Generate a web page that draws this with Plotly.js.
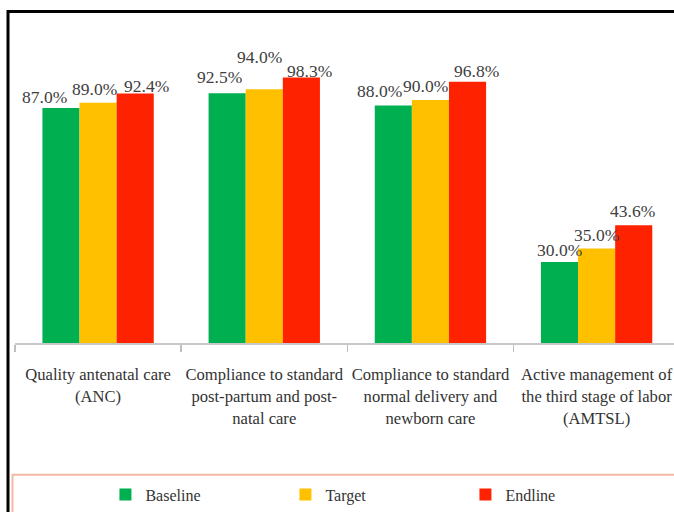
<!DOCTYPE html>
<html>
<head>
<meta charset="utf-8">
<script src="https://cdn.plot.ly/plotly-3.0.1.min.js"></script>
<style>html,body{margin:0;padding:0;background:#fff;}#chart{width:674px;height:512px;}</style>
</head>
<body>
<div id="chart"></div>
<script>
var categories = [
  "Quality antenatal care<br>(ANC)",
  "Compliance to standard<br>post-partum and post-<br>natal care",
  "Compliance to standard<br>normal delivery and<br>newborn care",
  "Active management of<br>the third stage of labor<br>(AMTSL)"
];
var seriesNames = ["Baseline", "Target", "Endline"];
var baseline = [87.0, 92.5, 88.0, 30.0];
var target = [89.0, 94.0, 90.0, 35.0];
var endline = [92.4, 98.3, 96.8, 43.6];

var colors = ["#00b050", "#ffc000", "#ff2200"];
var series = [baseline, target, endline];

// label placement tweaks (px): horizontal offset from bar centre, height of label centre above bar top
var labelDx = [[-16, -7.5, -14, 0], [-4, -4.5, -5, 0], [11, 8.5, 9, -1]];
var labelDy = [[11, 16, 14, 12], [13.5, 32, 14, 14], [7.5, 7, 11, 14]];

var FONT = "Liberation Serif";
var PLOT_L = 14.5, PLOT_T = 19, PLOT_W = 674 - 14.5, PLOT_H = 327;
var CAT_W = 166.3;
var BARGAP = 0.33;
var barW = (1 - BARGAP) / 3;

var traces = series.map(function (vals, i) {
  return {
    type: "bar",
    name: seriesNames[i],
    x: categories,
    y: vals,
    marker: {color: colors[i], line: {width: 0}},
    hoverinfo: "none"
  };
});

var annotations = [];
series.forEach(function (vals, i) {
  vals.forEach(function (v, j) {
    annotations.push({
      x: j + (i - 1) * barW,
      y: v,
      xref: "x",
      yref: "y",
      text: v.toFixed(1) + "%",
      showarrow: false,
      xanchor: "center",
      yanchor: "middle",
      xshift: labelDx[i][j],
      yshift: labelDy[i][j],
      borderpad: 0,
      font: {family: FONT, size: 17.5, color: "#404040"}
    });
  });
});

function px2x(px) { return (px - PLOT_L) / PLOT_W; }
function py2y(py) { return (PLOT_T + PLOT_H - py) / PLOT_H; }

var layout = {
  width: 674,
  height: 512,
  margin: {l: PLOT_L, r: 0, t: PLOT_T, b: 512 - PLOT_T - PLOT_H, pad: 0},
  paper_bgcolor: "#ffffff",
  plot_bgcolor: "#ffffff",
  barmode: "group",
  bargap: BARGAP,
  bargroupgap: 0,
  showlegend: true,
  font: {family: FONT, size: 16, color: "#333333"},
  xaxis: {
    type: "category",
    range: [-0.5, -0.5 + PLOT_W / CAT_W],
    tickson: "boundaries",
    ticks: "outside",
    ticklen: 7,
    tickcolor: "#bfbfbf",
    tickwidth: 1.5,
    tickangle: 0,
    showline: true,
    linecolor: "#c8c8c8",
    linewidth: 1.5,
    showgrid: false,
    zeroline: false,
    tickfont: {family: FONT, size: 16.6, color: "#333333"},
    ticklabelstandoff: 16
  },
  yaxis: {
    range: [0, 120],
    visible: false,
    showgrid: false,
    zeroline: false
  },
  legend: {
    orientation: "h",
    x: px2x(105),
    xanchor: "left",
    y: py2y(499),
    yanchor: "middle",
    entrywidth: 135,
    entrywidthmode: "pixels",
    itemwidth: 30,
    bgcolor: "rgba(0,0,0,0)",
    borderwidth: 0,
    font: {family: FONT, size: 16, color: "#333333"},
    itemclick: false
  },
  annotations: annotations,
  shapes: [
    {type: "rect", xref: "paper", yref: "paper",
     x0: px2x(7.5), x1: px2x(700), y0: py2y(540), y1: py2y(11.5),
     line: {color: "#000000", width: 3}, fillcolor: "rgba(0,0,0,0)", layer: "above"},
    {type: "rect", xref: "paper", yref: "paper",
     x0: px2x(12), x1: px2x(700), y0: py2y(540), y1: py2y(479),
     line: {color: "#f4b9a5", width: 2}, fillcolor: "rgba(0,0,0,0)", layer: "below"}
  ]
};

Plotly.newPlot("chart", traces, layout, {displayModeBar: false, staticPlot: true});
</script>
</body>
</html>
